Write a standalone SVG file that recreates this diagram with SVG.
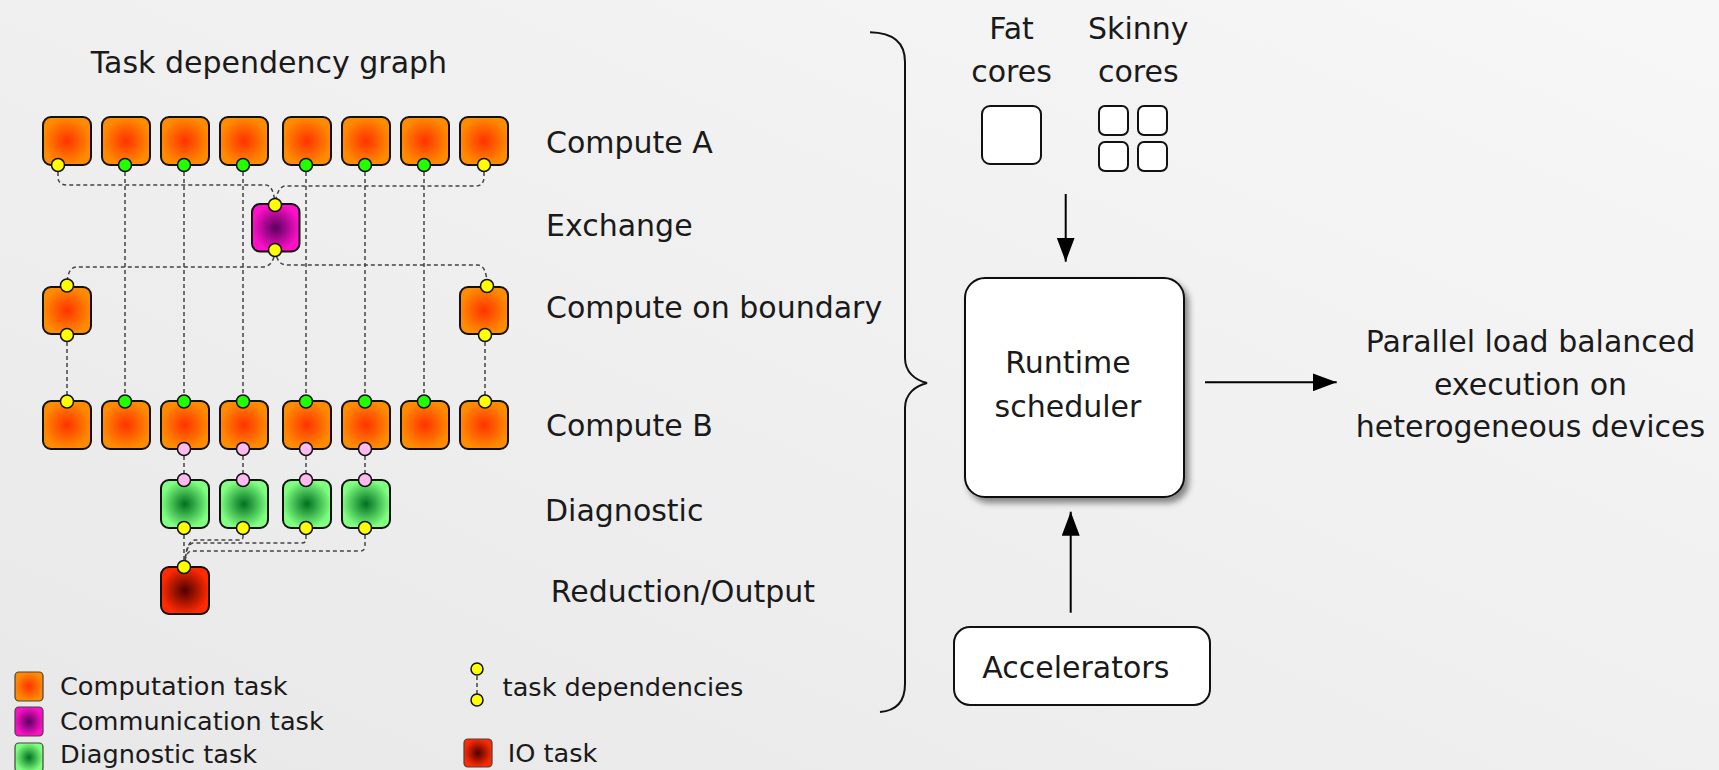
<svg xmlns="http://www.w3.org/2000/svg" width="1719" height="770" viewBox="0 0 1719 770">
<defs>
<linearGradient id="bg" x1="0" y1="1" x2="1" y2="0">
<stop offset="0" stop-color="#e8e8e8"/>
<stop offset="1" stop-color="#f7f7f7"/>
</linearGradient>
<radialGradient id="gOrange"><stop offset="0" stop-color="#ff3300"/><stop offset="1" stop-color="#ff8c00"/></radialGradient>
<radialGradient id="gMagenta"><stop offset="0" stop-color="#5a0060"/><stop offset="1" stop-color="#ff10c8"/></radialGradient>
<radialGradient id="gGreen"><stop offset="0" stop-color="#007020"/><stop offset="1" stop-color="#80ff80"/></radialGradient>
<radialGradient id="gRed"><stop offset="0" stop-color="#500000"/><stop offset="1" stop-color="#ff2a00"/></radialGradient>
<filter id="shadow" x="-10%" y="-10%" width="130%" height="130%">
<feDropShadow dx="4" dy="5" stdDeviation="3" flood-color="#000" flood-opacity="0.45"/>
</filter>
<marker id="arrow" markerUnits="userSpaceOnUse" markerWidth="24" markerHeight="18" refX="24" refY="9" orient="auto">
<path d="M0,0 L24,9 L0,18 z" fill="#000"/>
</marker>
<style>
text{font-family:"DejaVu Sans","Liberation Sans",sans-serif;fill:#1a1a1a}
.lbl{font-size:30px}
.leg{font-size:25.6px}
.mid{text-anchor:middle}
.task{stroke:#111;stroke-width:2}
.o{fill:url(#gOrange)}
.m{fill:url(#gMagenta)}
.g{fill:url(#gGreen)}
.r{fill:url(#gRed)}
.legsq{stroke:#444;stroke-width:1.2}
.dot{stroke:#111;stroke-width:1.5}
.y{fill:#ffff00}
.gd{fill:#22ff00}
.p{fill:#ffbbee}
.dep{fill:none;stroke:#444;stroke-width:1.5;stroke-dasharray:4 3}
.box{fill:#fff;stroke:#111;stroke-width:2}
.arr{stroke:#000;stroke-width:2;fill:none;marker-end:url(#arrow)}
.brace{fill:none;stroke:#111;stroke-width:2}
</style>
</defs>
<rect width="1719" height="770" fill="url(#bg)"/>

<text class="lbl" x="90.7" y="73.3">Task dependency graph</text>

<g id="connectors">
<path class="dep" d="M125,165V401M184,165V401M243,165V401M306,165V401M365,165V401M424,165V401"/>
<path class="dep" d="M58,165V177Q58,185 67,185H266Q274,186 275,205"/>
<path class="dep" d="M484,165V177Q484,186 475,186H285Q277,187 275,205"/>
<path class="dep" d="M275,250Q274,266 263,267H76Q67,268 67,286"/>
<path class="dep" d="M275,250Q277,265 287,265H478Q487,266 487,286"/>
<path class="dep" d="M67,335V401M485,335V401"/>
<path class="dep" d="M184,449V480M243,449V480M306,449V480M365,449V480"/>
<path class="dep" d="M184,528V567"/>
<path class="dep" d="M243,528V537Q243,540 238,540H195Q187,541 185,560"/>
<path class="dep" d="M306,528V540Q306,543 301,543H193Q187,544 185,560"/>
<path class="dep" d="M365,528V546Q365,551 360,551H191Q186,552 185,562"/>
<path class="dep" d="M477,669V700"/>
<path class="arr" d="M1065.7,194V261.7"/>
<path class="arr" d="M1070.7,612.7V511.7"/>
<path class="arr" d="M1205,382.3H1336.7"/>
<path class="brace" d="M870,32.3Q905,33 905,62V358C905,372 915,380 927,383C915,386 905,394 905,408V684Q905,710 880,712"/>
</g>

<g id="computeA">
<rect class="task o" x="43" y="117" width="48" height="48" rx="8"/>
<rect class="task o" x="102" y="117" width="48" height="48" rx="8"/>
<rect class="task o" x="161" y="117" width="48" height="48" rx="8"/>
<rect class="task o" x="220" y="117" width="48" height="48" rx="8"/>
<rect class="task o" x="283" y="117" width="48" height="48" rx="8"/>
<rect class="task o" x="342" y="117" width="48" height="48" rx="8"/>
<rect class="task o" x="401" y="117" width="48" height="48" rx="8"/>
<rect class="task o" x="460" y="117" width="48" height="48" rx="8"/>
<circle class="dot y" cx="58" cy="165" r="6.5"/>
<circle class="dot gd" cx="125" cy="165" r="6.5"/>
<circle class="dot gd" cx="184" cy="165" r="6.5"/>
<circle class="dot gd" cx="243" cy="165" r="6.5"/>
<circle class="dot gd" cx="306" cy="165" r="6.5"/>
<circle class="dot gd" cx="365" cy="165" r="6.5"/>
<circle class="dot gd" cx="424" cy="165" r="6.5"/>
<circle class="dot y" cx="484" cy="165" r="6.5"/>
<text class="lbl" x="546" y="153.3">Compute A</text>
</g>

<g id="exchange">
<rect class="task m" x="252" y="204" width="47.5" height="47.5" rx="8"/>
<circle class="dot y" cx="275" cy="205" r="6.5"/>
<circle class="dot y" cx="275" cy="250" r="6.5"/>
<text class="lbl" x="546" y="236">Exchange</text>
</g>

<g id="boundary">
<rect class="task o" x="43" y="287" width="48" height="47" rx="8"/>
<rect class="task o" x="460" y="287" width="48" height="47" rx="8"/>
<circle class="dot y" cx="67" cy="285.5" r="6.5"/>
<circle class="dot y" cx="67" cy="335" r="6.5"/>
<circle class="dot y" cx="487" cy="286" r="6.5"/>
<circle class="dot y" cx="485" cy="335" r="6.5"/>
<text class="lbl" x="546" y="318.3">Compute on boundary</text>
</g>

<g id="computeB">
<rect class="task o" x="43" y="401" width="48" height="48" rx="8"/>
<rect class="task o" x="102" y="401" width="48" height="48" rx="8"/>
<rect class="task o" x="161" y="401" width="48" height="48" rx="8"/>
<rect class="task o" x="220" y="401" width="48" height="48" rx="8"/>
<rect class="task o" x="283" y="401" width="48" height="48" rx="8"/>
<rect class="task o" x="342" y="401" width="48" height="48" rx="8"/>
<rect class="task o" x="401" y="401" width="48" height="48" rx="8"/>
<rect class="task o" x="460" y="401" width="48" height="48" rx="8"/>
<circle class="dot y" cx="67" cy="401.5" r="6.5"/>
<circle class="dot gd" cx="125" cy="401.5" r="6.5"/>
<circle class="dot gd" cx="184" cy="401.5" r="6.5"/>
<circle class="dot gd" cx="243" cy="401.5" r="6.5"/>
<circle class="dot gd" cx="306" cy="401.5" r="6.5"/>
<circle class="dot gd" cx="365" cy="401.5" r="6.5"/>
<circle class="dot gd" cx="424" cy="401.5" r="6.5"/>
<circle class="dot y" cx="485" cy="401.5" r="6.5"/>
<circle class="dot p" cx="184" cy="449" r="6.5"/>
<circle class="dot p" cx="243" cy="449" r="6.5"/>
<circle class="dot p" cx="306" cy="449" r="6.5"/>
<circle class="dot p" cx="365" cy="449" r="6.5"/>
<text class="lbl" x="546" y="435.7">Compute B</text>
</g>

<g id="diagnostic">
<rect class="task g" x="161" y="480" width="48" height="48" rx="8"/>
<rect class="task g" x="220" y="480" width="48" height="48" rx="8"/>
<rect class="task g" x="283" y="480" width="48" height="48" rx="8"/>
<rect class="task g" x="342" y="480" width="48" height="48" rx="8"/>
<circle class="dot p" cx="184" cy="480" r="6.5"/>
<circle class="dot p" cx="243" cy="480" r="6.5"/>
<circle class="dot p" cx="306" cy="480" r="6.5"/>
<circle class="dot p" cx="365" cy="480" r="6.5"/>
<circle class="dot y" cx="184" cy="528" r="6.5"/>
<circle class="dot y" cx="243" cy="528" r="6.5"/>
<circle class="dot y" cx="306" cy="528" r="6.5"/>
<circle class="dot y" cx="365" cy="528" r="6.5"/>
<text class="lbl" x="545" y="520.7">Diagnostic</text>
</g>

<g id="reduction">
<rect class="task r" x="161" y="567" width="48" height="47" rx="8"/>
<circle class="dot y" cx="184" cy="567" r="6.5"/>
<text class="lbl" x="550.7" y="601.7">Reduction/Output</text>
</g>

<g id="legend">
<rect class="legsq o" x="15" y="672" width="28" height="29" rx="4"/>
<text class="leg" x="60" y="695">Computation task</text>
<rect class="legsq m" x="15" y="707" width="28" height="29" rx="4"/>
<text class="leg" x="60" y="730">Communication task</text>
<rect class="legsq g" x="15" y="743" width="28" height="29" rx="4"/>
<text class="leg" x="60" y="763.3">Diagnostic task</text>
<circle class="dot y" cx="477" cy="669" r="6"/>
<circle class="dot y" cx="477" cy="700" r="6"/>
<text class="leg" x="502.6" y="695.7">task dependencies</text>
<rect class="legsq r" x="464" y="739" width="28" height="28" rx="4"/>
<text class="leg" x="507.7" y="761.7">IO task</text>
</g>

<g id="fatcores">
<text class="lbl mid" x="1011.5" y="39.3">Fat</text>
<text class="lbl mid" x="1011.5" y="81.7">cores</text>
<rect class="box" x="982" y="106" width="59" height="58" rx="8"/>
</g>

<g id="skinnycores">
<text class="lbl mid" x="1138.3" y="39.3">Skinny</text>
<text class="lbl mid" x="1138.3" y="81.7">cores</text>
<rect class="box" x="1099" y="106" width="29" height="29" rx="6"/>
<rect class="box" x="1138" y="106" width="29" height="29" rx="6"/>
<rect class="box" x="1099" y="142" width="29" height="29" rx="6"/>
<rect class="box" x="1138" y="142" width="29" height="29" rx="6"/>
</g>

<g id="scheduler">
<rect class="box" x="965" y="278" width="219" height="219" rx="20" filter="url(#shadow)"/>
<text class="lbl mid" x="1068" y="373.3">Runtime</text>
<text class="lbl mid" x="1068" y="416.7">scheduler</text>
</g>

<g id="accelerators">
<rect class="box" x="954" y="627" width="256" height="78" rx="16"/>
<text class="lbl mid" x="1075.8" y="678.3">Accelerators</text>
</g>

<g id="output">
<text class="lbl mid" x="1530.5" y="351.7">Parallel load balanced</text>
<text class="lbl mid" x="1530.5" y="395">execution on</text>
<text class="lbl mid" x="1530.5" y="436.7">heterogeneous devices</text>
</g>
</svg>
